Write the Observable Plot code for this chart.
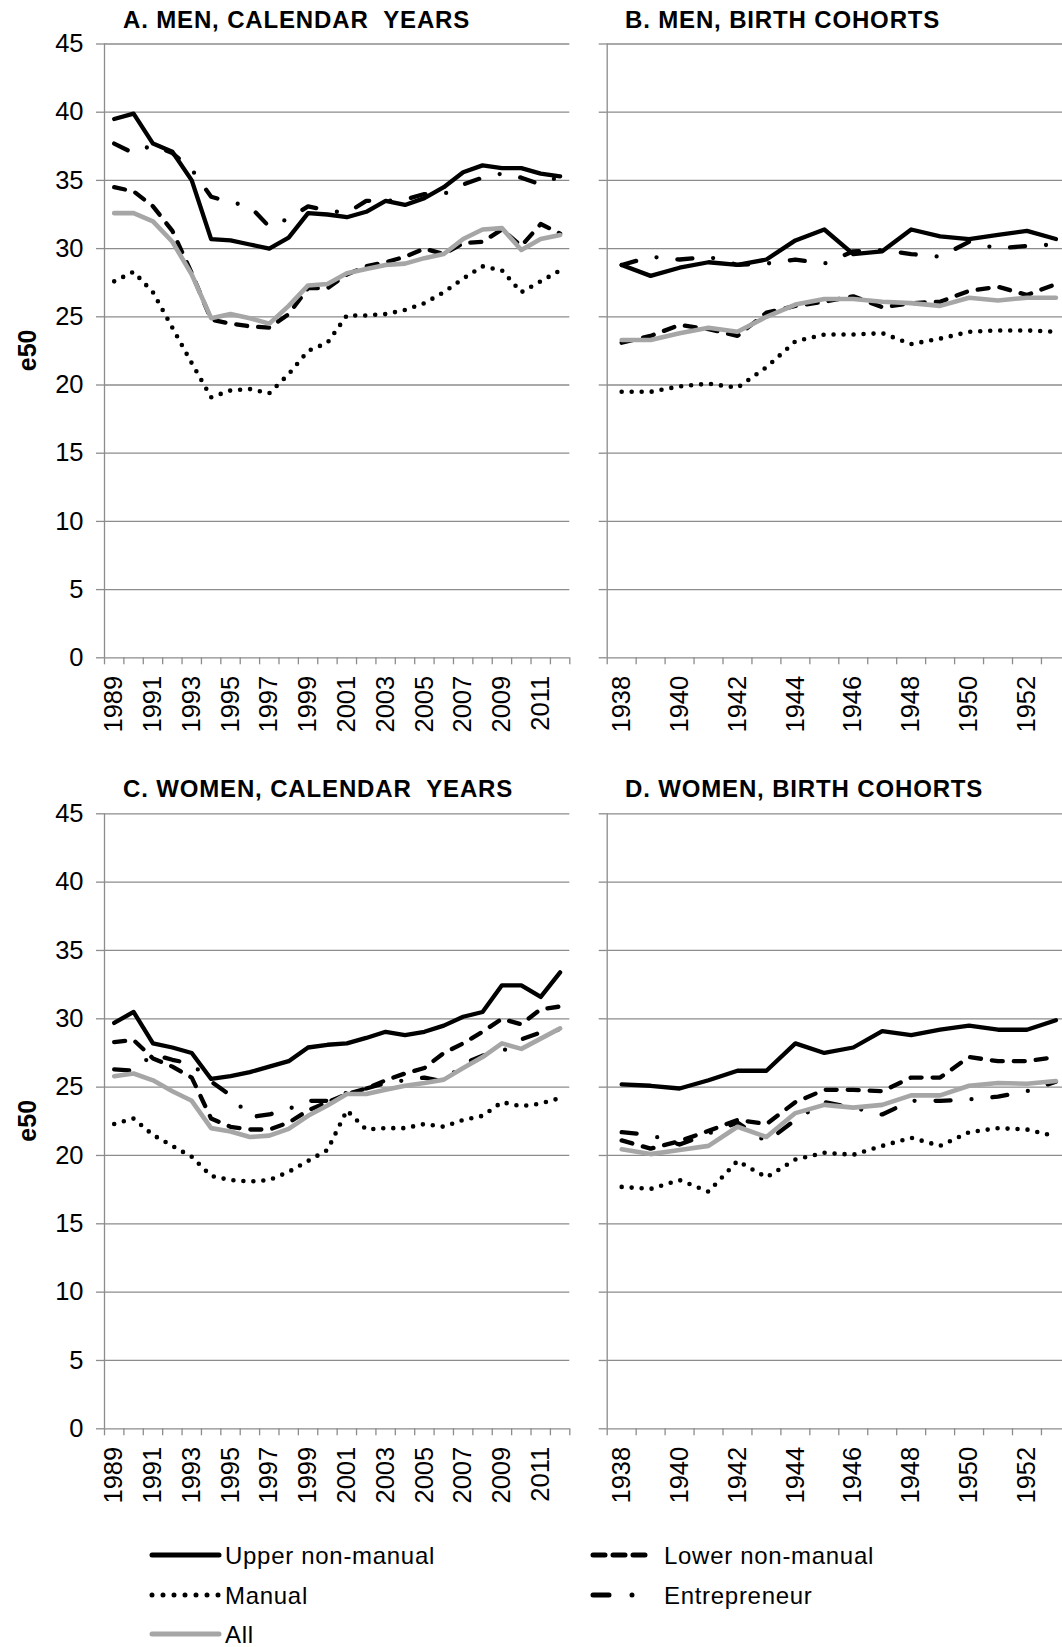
<!DOCTYPE html>
<html>
<head>
<meta charset="utf-8">
<script src="https://cdn.jsdelivr.net/npm/d3@7"></script>
<script src="https://cdn.jsdelivr.net/npm/@observablehq/plot@0.6"></script>
<style>
  html, body { margin: 0; padding: 0; background: #fff; overflow: hidden; }
  #root { position: relative; width: 1062px; height: 1647px; overflow: hidden; background: #fff;
          font-family: "Liberation Sans", Arial, sans-serif; color: #000; }
  .panel { position: absolute; }
  #overlay { position: absolute; left: 0; top: 0; pointer-events: none; }
</style>
</head>
<body>
<div id="root"></div>
<script>
// ---------- DATA ----------
const calendarYears = [1989,1990,1991,1992,1993,1994,1995,1996,1997,1998,1999,2000,2001,2002,2003,2004,2005,2006,2007,2008,2009,2010,2011,2012];
const birthCohorts = [1938,1939,1940,1941,1942,1943,1944,1945,1946,1947,1948,1949,1950,1951,1952,1953];
const calendarTickLabels = [1989,1991,1993,1995,1997,1999,2001,2003,2005,2007,2009,2011];
const cohortTickLabels = [1938,1940,1942,1944,1946,1948,1950,1952];
const yTicks = [0,5,10,15,20,25,30,35,40,45];

const seriesNames = ["Upper non-manual","Lower non-manual","Manual","Entrepreneur","All"];

// A. Men, calendar years
const menCalUpper  = [39.5,39.9,37.7,37.1,35.0,30.7,30.6,30.3,30.0,30.8,32.6,32.5,32.3,32.7,33.5,33.2,33.7,34.5,35.6,36.1,35.9,35.9,35.5,35.3];
const menCalLower  = [34.5,34.2,33.1,31.3,28.2,24.8,24.5,24.3,24.2,25.2,27.1,27.1,28.1,28.7,29.0,29.4,30.0,29.6,30.4,30.5,31.4,30.2,31.8,31.1];
const menCalManual = [27.6,28.3,26.8,24.2,21.6,19.1,19.6,19.7,19.4,20.8,22.5,23.1,25.1,25.1,25.2,25.5,26.0,26.8,27.8,28.7,28.4,26.8,27.6,28.4];
const menCalEntre  = [37.7,37.0,37.6,37.0,35.8,33.8,33.4,33.1,31.6,32.2,33.1,32.8,32.6,33.5,33.5,33.6,34.0,34.0,34.7,35.2,35.5,35.2,34.7,35.3];
const menCalAll    = [32.6,32.6,32.0,30.5,28.1,24.9,25.2,24.9,24.5,25.8,27.3,27.4,28.2,28.5,28.8,28.9,29.3,29.6,30.7,31.4,31.5,29.9,30.7,31.0];

// B. Men, birth cohorts
const menCohUpper  = [28.8,28.0,28.6,29.0,28.8,29.2,30.6,31.4,29.6,29.8,31.4,30.9,30.7,31.0,31.3,30.7];
const menCohLower  = [23.1,23.6,24.4,24.1,23.6,25.3,25.8,26.1,26.5,25.7,26.0,26.1,26.9,27.2,26.6,27.4];
const menCohManual = [19.5,19.5,19.9,20.1,19.8,21.3,23.2,23.7,23.7,23.8,23.0,23.4,23.9,24.0,24.0,23.9];
const menCohEntre  = [28.8,29.4,29.2,29.4,28.8,28.9,29.2,28.9,29.8,29.9,29.6,29.4,30.5,30.0,30.2,30.3];
const menCohAll    = [23.3,23.3,23.8,24.2,23.9,25.0,25.9,26.3,26.3,26.1,26.0,25.8,26.4,26.2,26.4,26.4];

// C. Women, calendar years
const womenCalUpper  = [29.7,30.5,28.2,27.9,27.5,25.6,25.8,26.1,26.5,26.9,27.9,28.1,28.2,28.6,29.05,28.8,29.05,29.5,30.15,30.5,32.45,32.45,31.6,33.4];
const womenCalLower  = [28.3,28.45,27.1,26.5,25.7,22.7,22.1,21.9,21.9,22.4,23.3,23.9,24.5,24.9,25.5,26.0,26.4,27.5,28.2,29.05,30.0,29.6,30.7,30.9];
const womenCalManual = [22.3,22.7,21.5,20.7,19.9,18.5,18.2,18.1,18.2,18.8,19.6,20.4,23.3,21.9,22.0,22.0,22.3,22.1,22.6,22.9,23.9,23.6,23.8,24.2];
const womenCalEntre  = [26.3,26.2,27.4,27.0,26.7,25.4,24.4,22.8,23.0,23.4,24.0,24.0,24.6,24.9,25.3,25.5,25.7,25.4,26.7,27.3,27.6,28.5,29.0,29.2];
const womenCalAll    = [25.8,26.0,25.5,24.7,24.0,22.0,21.75,21.35,21.45,21.95,22.9,23.65,24.5,24.5,24.8,25.1,25.3,25.55,26.4,27.2,28.2,27.8,28.55,29.3];

// D. Women, birth cohorts
const womenCohUpper  = [25.2,25.1,24.9,25.5,26.2,26.2,28.2,27.5,27.9,29.1,28.8,29.2,29.5,29.2,29.2,29.9];
const womenCohLower  = [21.1,20.5,21.05,21.8,22.6,22.3,23.9,24.8,24.8,24.7,25.7,25.7,27.2,26.9,26.9,27.2];
const womenCohManual = [17.7,17.55,18.2,17.35,19.6,18.4,19.7,20.2,20.05,20.7,21.3,20.7,21.7,22.0,21.9,21.4];
const womenCohEntre  = [21.7,21.5,20.8,21.6,22.4,21.0,22.6,23.9,23.5,23.0,24.0,24.0,24.1,24.3,24.7,25.4];
const womenCohAll    = [20.45,20.1,20.4,20.7,22.1,21.35,23.1,23.7,23.5,23.7,24.4,24.4,25.1,25.3,25.25,25.45];

const titles = ["A. MEN, CALENDAR  YEARS", "B. MEN, BIRTH COHORTS", "C. WOMEN, CALENDAR  YEARS", "D. WOMEN, BIRTH COHORTS"];
const yLabel = "e50";

// ---------- STYLES ----------
const GRID = "#8c8c8c";
const FONT = "'Liberation Sans', Arial, sans-serif";
const lineStyles = {
  "Upper non-manual": {stroke: "#000", strokeWidth: 4.3},
  "Lower non-manual": {stroke: "#000", strokeWidth: 4.3, strokeDasharray: "11 11"},
  "Manual":           {stroke: "#000", strokeWidth: 4.6, strokeDasharray: "0 10"},
  "Entrepreneur":     {stroke: "#000", strokeWidth: 4.3, strokeDasharray: "15 21 0 21"},
  "All":              {stroke: "#a6a6a6", strokeWidth: 4.6}
};

const root = document.getElementById("root");

function makePanel({years, tickLabels, series, showYLabels, left, top, width, height, mL, mR, mT, mB}) {
  const x0 = years[0] - 0.5, x1 = years[years.length - 1] + 0.5;
  const boundaries = years.map(y => y - 0.5).concat([x1]);
  const marks = [
    Plot.gridY(yTicks, {stroke: GRID, strokeOpacity: 1, strokeWidth: 1.3}),
    Plot.axisY(yTicks, {
      tickSize: 8, tickPadding: 13, stroke: GRID, strokeWidth: 1.3, strokeOpacity: 1,
      tickFormat: showYLabels ? (d => String(d)) : (() => ""),
      fontSize: 25.5, fill: "#000", label: null
    }),
    Plot.ruleX([x0], {stroke: GRID, strokeWidth: 1.3}),
    Plot.axisX(boundaries, {tickSize: 7, stroke: GRID, strokeWidth: 1.3, strokeOpacity: 1, tickFormat: () => "", label: null}),
    Plot.axisX(tickLabels, {tickSize: 0, tickPadding: 18, tickRotate: -90, fontSize: 25.5, fill: "#000", tickFormat: d => String(d), label: null})
  ];
  for (const name of seriesNames) {
    const rows = series[name].map((v, i) => ({year: years[i], value: v}));
    marks.push(Plot.line(rows, {x: "year", y: "value", ...lineStyles[name], strokeLinecap: "round", strokeLinejoin: "round"}));
  }
  const chart = Plot.plot({
    width, height,
    marginLeft: mL, marginRight: mR, marginTop: mT, marginBottom: mB,
    x: {type: "linear", domain: [x0, x1]},
    y: {type: "linear", domain: [0, 45]},
    style: {background: "transparent", fontFamily: FONT, fontSize: "25.5px", color: "#000", overflow: "visible"},
    marks
  });
  chart.classList.add("panel");
  chart.style.left = left + "px";
  chart.style.top = top + "px";
  root.appendChild(chart);
}

// Panel geometry
const calW = 580, cohW = 540;
makePanel({years: calendarYears, tickLabels: calendarTickLabels, showYLabels: true,
  series: {"Upper non-manual": menCalUpper, "Lower non-manual": menCalLower, "Manual": menCalManual, "Entrepreneur": menCalEntre, "All": menCalAll},
  left: 0, top: 0, width: calW, height: 740, mL: 104, mR: calW - 569.3, mT: 43.5, mB: 740 - 657.3});
makePanel({years: birthCohorts, tickLabels: cohortTickLabels, showYLabels: false,
  series: {"Upper non-manual": menCohUpper, "Lower non-manual": menCohLower, "Manual": menCohManual, "Entrepreneur": menCohEntre, "All": menCohAll},
  left: 540, top: 0, width: cohW, height: 740, mL: 66.7, mR: cohW - 66.7 - 463.2, mT: 43.5, mB: 740 - 657.3});
makePanel({years: calendarYears, tickLabels: calendarTickLabels, showYLabels: true,
  series: {"Upper non-manual": womenCalUpper, "Lower non-manual": womenCalLower, "Manual": womenCalManual, "Entrepreneur": womenCalEntre, "All": womenCalAll},
  left: 0, top: 760, width: calW, height: 740, mL: 104, mR: calW - 569.3, mT: 53.3, mB: 740 - 668.3});
makePanel({years: birthCohorts, tickLabels: cohortTickLabels, showYLabels: false,
  series: {"Upper non-manual": womenCohUpper, "Lower non-manual": womenCohLower, "Manual": womenCohManual, "Entrepreneur": womenCohEntre, "All": womenCohAll},
  left: 540, top: 760, width: cohW, height: 740, mL: 66.7, mR: cohW - 66.7 - 463.2, mT: 53.3, mB: 740 - 668.3});

// ---------- OVERLAY: titles, axis titles, legend ----------
const ns = "http://www.w3.org/2000/svg";
const ov = document.createElementNS(ns, "svg");
ov.setAttribute("id", "overlay");
ov.setAttribute("width", 1062);
ov.setAttribute("height", 1647);
root.appendChild(ov);
function addText(x, y, txt, attrs = {}) {
  const t = document.createElementNS(ns, "text");
  t.setAttribute("x", x); t.setAttribute("y", y);
  t.setAttribute("font-family", FONT);
  t.setAttribute("font-size", 24);
  t.setAttribute("fill", "#000");
  t.setAttribute("xml:space", "preserve");
  t.style.whiteSpace = "pre";
  for (const k in attrs) t.setAttribute(k, attrs[k]);
  t.textContent = txt;
  ov.appendChild(t);
  return t;
}
const titlePos = [[123, 28], [625, 28], [123, 797], [625, 797]];
titles.forEach((t, i) => addText(titlePos[i][0], titlePos[i][1], t, {"font-weight": "bold", "letter-spacing": "0.85"}));
[[27, 350.4], [27, 1120.8]].forEach(([cx, cy]) =>
  addText(cx, cy, yLabel, {"font-weight": "bold", "font-size": 25, "text-anchor": "middle", "dy": "0.35em", transform: `rotate(-90 ${cx} ${cy})`}));

const legendItems = [
  {name: "Upper non-manual", x1: 152, x2: 219, tx: 225, y: 1555},
  {name: "Manual",           x1: 152, x2: 219, tx: 225, y: 1595},
  {name: "All",              x1: 152, x2: 219, tx: 225, y: 1634},
  {name: "Lower non-manual", x1: 593, x2: 652, tx: 664, y: 1555},
  {name: "Entrepreneur",     x1: 593, x2: 652, tx: 664, y: 1595}
];
const legendDash = {"Lower non-manual": "12 8", "Manual": "0 11", "Entrepreneur": "16 23 0 23"};
for (const it of legendItems) {
  const s = lineStyles[it.name];
  const l = document.createElementNS(ns, "line");
  l.setAttribute("x1", it.x1); l.setAttribute("x2", it.x2);
  l.setAttribute("y1", it.y); l.setAttribute("y2", it.y);
  l.setAttribute("stroke", s.stroke);
  l.setAttribute("stroke-width", 5);
  l.setAttribute("stroke-linecap", "round");
  if (legendDash[it.name]) l.setAttribute("stroke-dasharray", legendDash[it.name]);
  ov.appendChild(l);
  addText(it.tx, it.y + 8.5, it.name, {"letter-spacing": "0.7"});
}
</script>
</body>
</html>
